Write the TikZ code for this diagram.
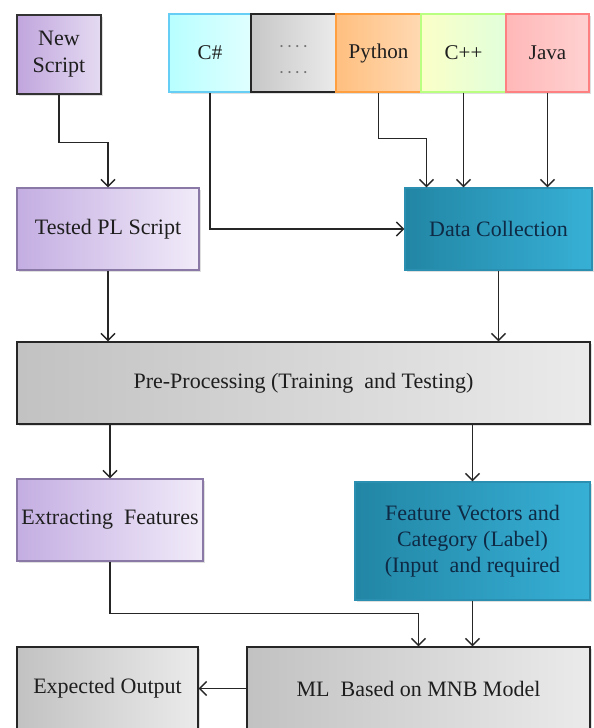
\documentclass[tikz,border=0pt]{standalone}
\usepackage{fontspec}
\setmainfont{Liberation Serif}
\usetikzlibrary{arrows.meta,calc,shadows}
\definecolor{lnc}{HTML}{262626}
\definecolor{txt}{HTML}{1E1E1E}
\definecolor{purL}{HTML}{C4AEE2}
\definecolor{purR}{HTML}{F1EBF9}
\definecolor{purB}{HTML}{8A78A6}
\definecolor{tealL}{HTML}{2286A5}
\definecolor{tealR}{HTML}{37B0D6}
\definecolor{tealB}{HTML}{2A8FB0}
\definecolor{tealT}{HTML}{0E2A45}
\begin{document}
\begin{tikzpicture}[x=1pt,y=-1pt,
  box/.style={rectangle, inner sep=0pt, align=center, text=txt,
    font=\fontsize{22}{27}\selectfont, line width=1.1pt,
    drop shadow={shadow xshift=1.5pt, shadow yshift=-1.5pt, opacity=0.25}},
  purp/.style={box, draw=purB, left color=purL, right color=purR},
  gry/.style={box, draw=black!85, left color=black!24, right color=black!8},
  tealbox/.style={box, draw=tealB, left color=tealL, right color=tealR, text=tealT,
    font=\fontsize{22}{26}\selectfont},
  lang/.style={box, font=\fontsize{21}{26}\selectfont},
  arr/.style={draw=lnc, line width=1.5pt, -{Straight Barb[length=7pt,width=14pt,line width=1.5pt]}}
]
\useasboundingbox (0,0) rectangle (594,728);
\clip (0,0) rectangle (594,728);
\fill[white] (0,0) rectangle (594,728);

% top row
\node[purp, draw=black!80, minimum width=84pt, minimum height=79pt,
  left color=purL!95!violet, right color=purL!45!white] (ns) at (59,54.5) {New\\Script};
\node[lang, draw=cyan!60!white, left color=cyan!28!white, right color=cyan!12!white, minimum width=82pt, minimum height=78pt] (cs) at (210,53) {C\#};
\node[lang, draw=black!85, left color=black!22, right color=black!8, minimum width=85pt, minimum height=78pt] (dt) at (293.5,53) {};
\node[text=black!55, font=\fontsize{18}{26}\selectfont, align=center, inner sep=0pt] (dtt) at ([yshift=-9pt]dt.center) {·\kern2pt·\kern2pt·\kern2pt·\\[0pt]·\kern2pt·\kern2pt·\kern2pt·};
\node[lang, draw=orange!75!white, left color=orange!50!white, right color=orange!30!white, minimum width=85pt, minimum height=78pt] (py) at (378.5,53) {Python};
\node[lang, draw=lime!60!green!50!white, left color=lime!30!yellow!22!white, right color=lime!22!green!14!white, minimum width=85pt, minimum height=78pt] (cp) at (463.5,53) {C++};
\node[lang, draw=red!50!white, left color=red!28!white, right color=red!18!white, minimum width=83pt, minimum height=78pt] (jv) at (547.5,53) {Java};

% second row
\node[purp, minimum width=182pt, minimum height=82pt] (tpl) at (108,229) {Tested PL Script};
\node[tealbox, minimum width=187pt, minimum height=82pt] (dc) at (498.5,229) {Data Collection};

% pre-processing
\node[gry, minimum width=573pt, minimum height=82pt] (pp) at (303.5,383) {Pre-Processing (Training \ and Testing)};

% fourth row
\node[purp, minimum width=186pt, minimum height=82pt] (ef) at (110,520) {Extracting \ Features};
\node[tealbox, minimum width=235pt, minimum height=118pt] (fv) at (472.5,541) {Feature Vectors and\\Category (Label)\\(Input \ and required};

% bottom row
\node[gry, minimum width=181pt, minimum height=83pt] (eo) at (107.5,688.5) {Expected Output};
\node[gry, minimum width=343pt, minimum height=83pt] (ml) at (418.5,688.5) {ML \ Based on MNB Model};

% connectors
\draw[arr] (ns.south) -- ++(0,48) -| (tpl.north);
\draw[arr] (cs.south) |- (dc.west);
\draw[arr] (py.south) -- ++(0,46) -| ($(dc.north west)+(22,0)$);
\draw[arr] (cp.south) -- (cp.south |- dc.north);
\draw[arr] (jv.south) -- (jv.south |- dc.north);
\draw[arr] (tpl.south) -- (tpl.south |- pp.north);
\draw[arr] (dc.south) -- (dc.south |- pp.north);
\draw[arr] (ef.north |- pp.south) -- (ef.north);
\draw[arr] (fv.north |- pp.south) -- (fv.north);
\draw[arr] (ef.south) -- ++(0,52) -| (ml.north);
\draw[arr] (fv.south) -- (fv.south |- ml.north);
\draw[arr] (ml.west) -- (eo.east);
\end{tikzpicture}
\end{document}
